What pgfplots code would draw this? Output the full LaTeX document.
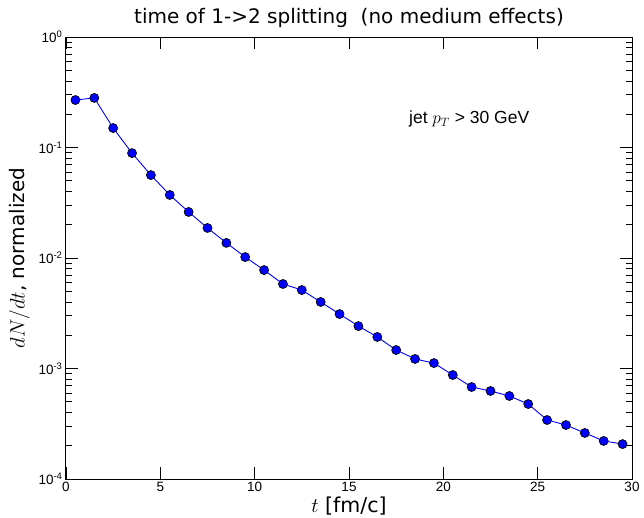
\documentclass[border=0pt]{standalone}
\usepackage{fontspec}
\setmainfont{Liberation Sans}
\newfontfamily\dejavu{DejaVu Sans}
\usepackage{pgfplots}
\pgfplotsset{compat=1.18}
\begin{document}
\begin{tikzpicture}
\begin{axis}[
  name=ax,
  scale only axis,
  width=566pt, height=442pt,
  ymode=log,
  xmin=0, xmax=30, ymin=1e-4, ymax=1,
  xtick={0,5,10,15,20,25,30},
  ytick={1e-4,1e-3,1e-2,1e-1,1},
  yticklabels={10\textsuperscript{-4},10\textsuperscript{-3},10\textsuperscript{-2},10\textsuperscript{-1},10\textsuperscript{0}},
  xticklabel style={font=\fontsize{13.5}{15}\selectfont},
  yticklabel style={font=\fontsize{13.5}{15}\selectfont},
  /pgf/number format/assume math mode=true,
  tick align=inside,
  major tick length=12pt,
  minor tick length=6pt,
  axis line style={line width=1pt},
  every tick/.style={black, line width=0.8pt},
  title={\dejavu\fontsize{20}{24}\selectfont time of 1->2 splitting\ \ (no medium effects)},
  title style={yshift=0pt},
  xlabel={\dejavu\fontsize{20.5}{24}\selectfont $t$ [fm/c]},
  ylabel={\dejavu\fontsize{20}{24}\selectfont $dN/dt$, normalized},
  xlabel style={yshift=2pt},
  ylabel style={yshift=2pt},
]
\addplot[blue, line width=0.9pt, mark=*, mark size=4.5pt, mark options={fill=blue, draw=black, line width=0.7pt}] coordinates {
(0.5,0.269) (1.5,0.281) (2.5,0.150) (3.5,0.089) (4.5,0.0563) (5.5,0.0372)
(6.5,0.0261) (7.5,0.0187) (8.5,0.0137) (9.5,0.0102) (10.5,0.00778) (11.5,0.00582)
(12.5,0.00513) (13.5,0.0040) (14.5,0.00311) (15.5,0.00242) (16.5,0.00193) (17.5,0.00147)
(18.5,0.00122) (19.5,0.00112) (20.5,0.000873) (21.5,0.000680) (22.5,0.000626) (23.5,0.000564)
(24.5,0.000477) (25.5,0.000342) (26.5,0.000308) (27.5,0.000261) (28.5,0.000221) (29.5,0.000207)
};
\node[anchor=west, font=\fontsize{17.5}{20}\selectfont] at (axis cs:18.0,0.18) {jet $p_T$ > 30 GeV};
\end{axis}
\pgfresetboundingbox
\path ([shift={(-66pt,-39pt)}]ax.south west) rectangle ([shift={(12pt,37pt)}]ax.north east);
\end{tikzpicture}
\end{document}
